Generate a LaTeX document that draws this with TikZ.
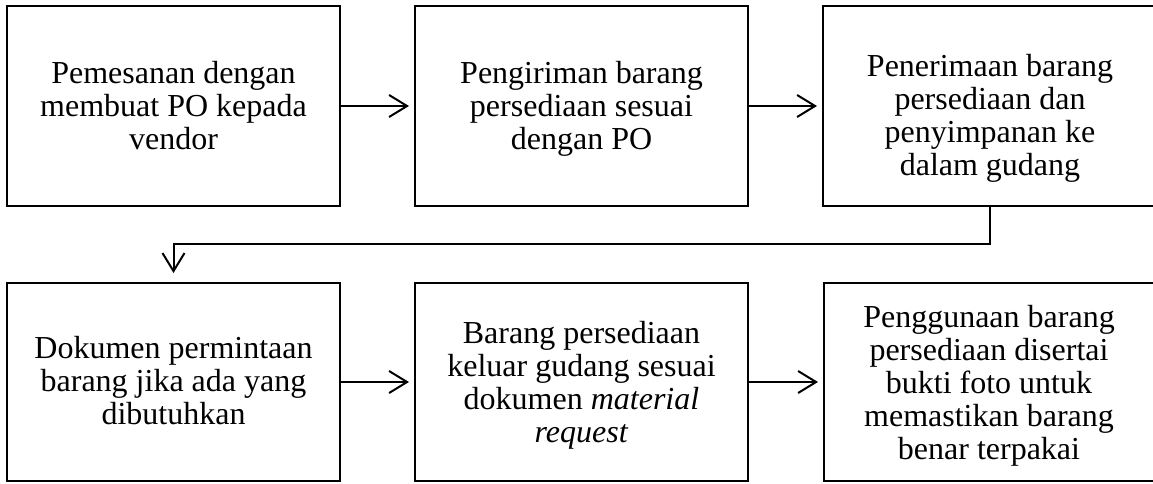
\documentclass[tikz,border=0pt]{standalone}
\usepackage{fontspec}
\setmainfont{Liberation Serif}
\usetikzlibrary{arrows.meta}
\begin{document}
\begin{tikzpicture}[x=1pt,y=-1pt,
  box/.style={draw,line width=2pt,minimum width=333pt,minimum height=200pt,inner sep=0pt,outer sep=0pt,anchor=north west},
  widebox/.style={box,minimum width=350pt},
  lowbox/.style={minimum height=198pt},
  txt/.style={align=center,inner sep=0pt,anchor=north,font=\fontsize{32}{33}\selectfont},
  flow/.style={line width=2pt,-{Straight Barb[length=18pt,width=22pt,line width=2pt]}}]
\useasboundingbox (0,0) rectangle (1153,483);
% boxes
\node[box] (b1) at (7,6) {};
\node[box] (b2) at (415,6) {};
\node[widebox] (b3) at (823,6) {};
\node[box,lowbox] (b4) at (7,283) {};
\node[box,lowbox] (b5) at (415,283) {};
\node[widebox,lowbox] (b6) at (824,283) {};
% texts
\node[txt] (t1) at (173.5,61.5) {Pemesanan dengan\\membuat PO kepada\\vendor};
\node[txt] (t2) at (581.5,61.5) {Pengiriman barang\\persediaan sesuai\\dengan PO};
\node[txt] (t3) at (990,54.5) {Penerimaan barang\\persediaan dan\\penyimpanan ke\\dalam gudang};
\node[txt] (t4) at (173.5,336.5) {Dokumen permintaan\\barang jika ada yang\\dibutuhkan};
\node[txt] (t5) at (581.5,321.5) {Barang persediaan\\keluar gudang sesuai\\dokumen \textit{material}\\\textit{request}};
\node[txt] (t6) at (989,305.5) {Penggunaan barang\\persediaan disertai\\bukti foto untuk\\memastikan barang\\benar terpakai};
% connectors
\coordinate (turn) at (990,244);
\draw[flow,shorten >=6pt] (b1.east) -- (b2.west);
\draw[flow,shorten >=6pt] (b2.east) -- (b3.west);
\draw[flow,shorten >=10pt] (b3.south west -| turn) -- (turn) -| (b4.north);
\draw[flow,shorten >=6pt] (b4.east) -- (b5.west);
\draw[flow,shorten >=6pt] (b5.east) -- (b6.west);
\end{tikzpicture}
\end{document}
